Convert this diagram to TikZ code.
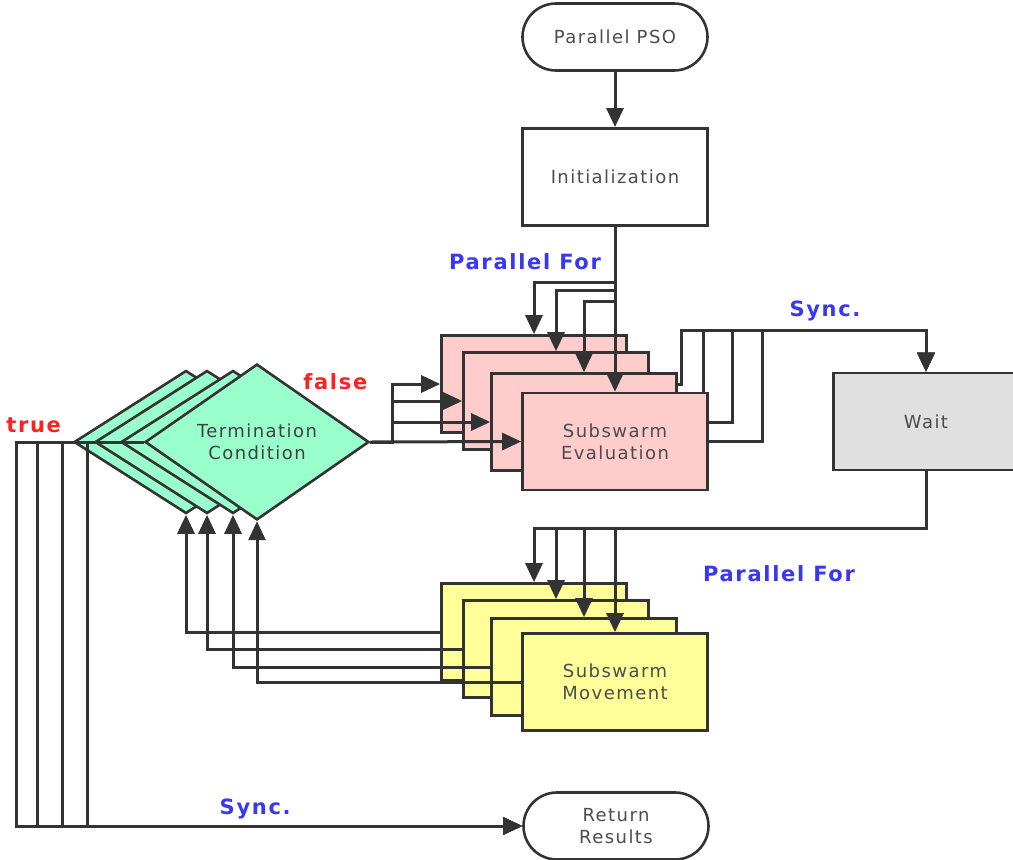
\documentclass[tikz,border=0pt]{standalone}
\usepackage{fontspec}
\setmainfont{DejaVu Sans}
\newfontfamily\boxfont{DejaVu Sans}[LetterSpace=8]
\usetikzlibrary{positioning, calc, shapes.geometric, shapes.misc, arrows.meta, backgrounds}

\definecolor{evalpink}{HTML}{FFCCCC}
\definecolor{movyellow}{HTML}{FFFF99}
\definecolor{condgreen}{HTML}{99FFCC}
\definecolor{waitgray}{HTML}{E0E0E0}
\definecolor{wire}{HTML}{333333}
\definecolor{labelblue}{HTML}{3838F0}
\definecolor{labelred}{HTML}{FF2020}

\begin{document}
\begin{tikzpicture}[x = 1pt, y = -1pt,
    box/.style = {draw = wire, line width = 2.6pt,
        minimum width = 185pt, minimum height = 97pt,
        inner sep = 0pt, text = black!70, align = center,
        font = \boxfont\fontsize{18}{22}\selectfont},
    term/.style = {box, rounded rectangle, minimum height = 67pt},
    cond/.style = {box, diamond, minimum width = 224pt, minimum height = 143pt,
        fill = condgreen, text = black!75},
    flow/.style = {draw = wire, line width = 3pt, -{Triangle[length = 19pt, width = 17pt]}},
    note/.style = {font = \boxfont\bfseries\fontsize{21}{24}\selectfont}]

        \useasboundingbox (0,0) rectangle (1013,860);

        %start and end
        \node[term] (pso) at (615,37) {Parallel PSO};
        \node[box] (init) at ($(pso.south) + (0,105)$) {Initialization};
        \node[box, fill = waitgray] (wait) at (926,421.5) {Wait};
        \node[term] (ret) at (616,826) {Return\\Results};

        \draw[flow] (pso) -- (init);

        %termination checks
        \node[cond] (cond1) at (186,442) {};
        \draw[flow] (cond1.west) -- ++(-56,0) |- (ret.west);
        \node[cond] (cond2) at ($(cond1) + (21,0)$) {};
        \draw[flow] (cond2.west) -- ++(-56,0) |- (ret.west);
        \node[cond] (cond3) at ($(cond2) + (26,0)$) {};
        \draw[flow] (cond3.west) -- ++(-57,0) |- (ret.west);
        \node[cond] (cond4) at ($(cond3) + (24,0)$) {Termination\\Condition};
        \draw[flow] (cond4.west) -- ++(-56,0) |- (ret.west);

        \coordinate (ffork) at ($(cond4.east) + (22,0)$);

        %evaluation
        \node[box, fill = evalpink] (ev1) at (534,384) {};
        \draw[flow] (init.south) -- ++(0,56) -| (ev1.north);
        \draw[flow] (cond4.east) -- (ffork) |- (ev1.west);
        \node[box, fill = evalpink] (ev2) at ($(ev1) + (22,17)$) {};
        \draw[flow] (init.south) -- ++(0,64) -| (ev2.north);
        \draw[flow] (cond4.east) -- (ffork) |- (ev2.west);
        \node[box, fill = evalpink] (ev3) at ($(ev2) + (28,21)$) {};
        \draw[flow] (init.south) -- ++(0,75) -| (ev3.north);
        \draw[flow] (cond4.east) -- (ffork) |- (ev3.west);
        \node[box, fill = evalpink] (ev4) at ($(ev3) + (31,19.5)$) {Subswarm\\Evaluation};
        \draw[flow] (init.south) -- (ev4.north);
        \draw[flow] (cond4.east) -- (ev4.west);

        \coordinate (sbend) at ($(wait.north) + (0,-41)$);
        \begin{scope}[on background layer]
            \draw[flow] (ev1.east) -- ++(54,0) |- (sbend) -- (wait.north);
            \draw[flow] (ev2.east) -- ++(54,0) |- (sbend) -- (wait.north);
            \draw[flow] (ev3.east) -- ++(55,0) |- (sbend) -- (wait.north);
            \draw[flow] (ev4.east) -- ++(54,0) |- (sbend) -- (wait.north);
        \end{scope}

        %movement
        \coordinate (wsplit) at ($(wait.south) + (0,57)$);
        \node[box, fill = movyellow] (mv1) at (534,632) {};
        \draw[flow] (wait.south) -- (wsplit) -| (mv1.north);
        \draw[flow] (mv1.west) -| (cond1.south);
        \node[box, fill = movyellow] (mv2) at ($(mv1) + (22,17)$) {};
        \draw[flow] (wait.south) -- (wsplit) -| (mv2.north);
        \draw[flow] (mv2.west) -| (cond2.south);
        \node[box, fill = movyellow] (mv3) at ($(mv2) + (28,18)$) {};
        \draw[flow] (wait.south) -- (wsplit) -| (mv3.north);
        \draw[flow] (mv3.west) -| (cond3.south);
        \node[box, fill = movyellow] (mv4) at ($(mv3) + (31,15)$) {Subswarm\\Movement};
        \draw[flow] (wait.south) -- (wsplit) -| (mv4.north);
        \draw[flow] (mv4.west) -| (cond4.south);

        %labels
        \node[note, text = labelblue] (pfor1) at ($(init.south) + (-90,35)$) {Parallel For};
        \node[note, text = labelblue] (sync1) at ($(sbend) + (-101,-20)$) {Sync.};
        \node[note, text = labelblue] (pfor2) at ($(wsplit) + (-147,45)$) {Parallel For};
        \node[note, text = labelblue] (sync2) at ($(ret.west) + (-267,-17)$) {Sync.};
        \node[note, text = labelred] (truelbl) at ($(cond1.west) + (-39,-17)$) {true};
        \node[note, text = labelred] (falselbl) at ($(cond4.east) + (-35,-60)$) {false};

\end{tikzpicture}
\end{document}
